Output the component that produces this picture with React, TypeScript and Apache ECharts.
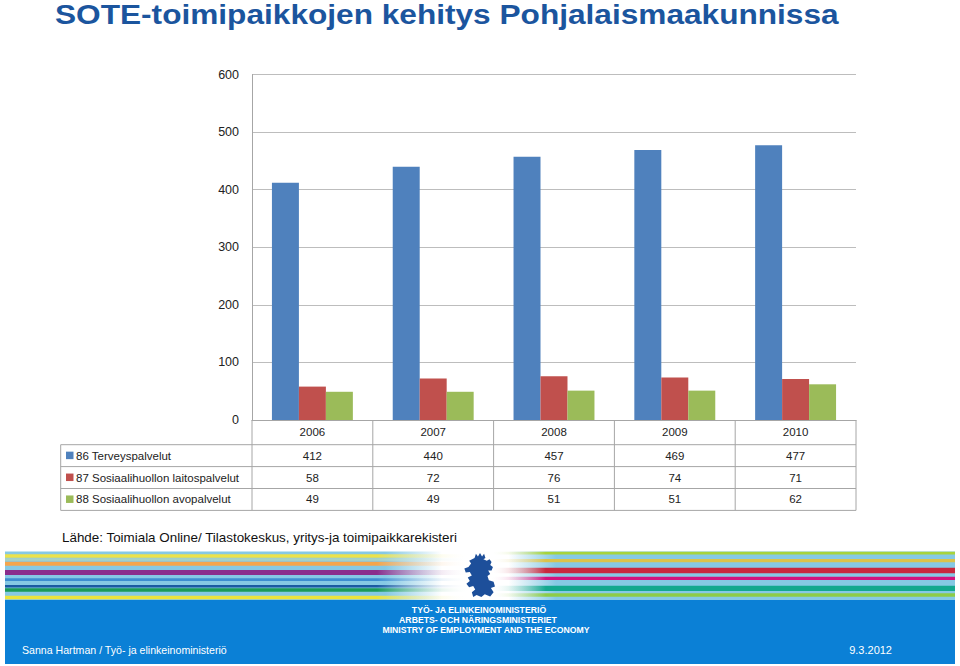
import React, { useEffect, useRef } from "react";
import * as echarts from "echarts";

const years = ["2006", "2007", "2008", "2009", "2010"];
const seriesNames = [
  "86 Terveyspalvelut",
  "87 Sosiaalihuollon laitospalvelut",
  "88 Sosiaalihuollon avopalvelut",
];
const terveys = [412, 440, 457, 469, 477];
const laitos = [58, 72, 76, 74, 71];
const avo = [49, 49, 51, 51, 62];
const yMin = 0;
const yMax = 600;
const yStep = 100;

const titleText = "SOTE-toimipaikkojen kehitys Pohjalaismaakunnissa";
const sourceText = "Lähde: Toimiala Online/ Tilastokeskus, yritys-ja toimipaikkarekisteri";
const ministryLines = [
  "TYÖ- JA ELINKEINOMINISTERIÖ",
  "ARBETS- OCH NÄRINGSMINISTERIET",
  "MINISTRY OF EMPLOYMENT AND THE ECONOMY",
];
const footerLeft = "Sanna Hartman / Työ- ja elinkeinoministeriö";
const footerRight = "9.3.2012";

const colors = ["#4f81bd", "#c0504d", "#9bbb59"];
const FONT = "Liberation Sans, Arial, sans-serif";
const BORDER = "#a6a6a6";

const lionPath =
  "M34 14 L38 2 L44 10 L50 0 L56 10 L62 2 L66 14 L60 18 L70 22 L78 18 L84 26 L80 34 L88 40 L84 50 L74 50 L80 60 L72 66 L76 78 L90 82 L94 96 L82 100 L90 112 L80 124 L64 118 L54 126 L40 120 L30 126 L26 112 L36 104 L30 94 L18 98 L10 88 L20 80 L14 70 L26 64 L20 54 L8 56 L4 44 L16 40 L24 30 L18 22 Z";

try {
  echarts.graphic.registerShape(
    "lionLogo",
    echarts.graphic.extendPath(lionPath, {}) as any
  );
} catch (e) {}

export default function App() {
  const ref = useRef<HTMLDivElement>(null);
  useEffect(() => {
    document.body.style.margin = "0";
    if (!ref.current) return;
    const chart = echarts.init(ref.current, null, { renderer: "svg" });
    const barSeries = [terveys, laitos, avo].map((d, i) => ({
      name: seriesNames[i],
      type: "bar" as const,
      data: d,
      barGap: "0%",
      barCategoryGap: "33%",
      itemStyle: { color: colors[i] },
    }));
    chart.setOption({
      animation: false,
      backgroundColor: "#ffffff",
      grid: { left: 252, right: 104, top: 74.5, bottom: 246, containLabel: false },
      xAxis: {
        type: "category",
        data: years,
        axisLine: { lineStyle: { color: BORDER } },
        axisTick: { show: false },
        axisLabel: { show: false },
      },
      yAxis: {
        type: "value",
        min: yMin,
        max: yMax,
        interval: yStep,
        axisLine: { show: true, lineStyle: { color: BORDER } },
        axisTick: { show: false },
        axisLabel: { color: "#222", fontSize: 12.5, fontFamily: FONT, margin: 13 },
        splitLine: { lineStyle: { color: "#bdbdbd" } },
      },
      series: barSeries,
    });

    const cx = years.map((y) => chart.convertToPixel({ xAxisIndex: 0 }, y) as number);
    const cw = cx.length > 1 ? cx[1] - cx[0] : 120;
    const y0 = chart.convertToPixel({ yAxisIndex: 0 }, 0) as number;
    const tableLeft = 60.7;
    const colLeft = cx[0] - cw / 2;
    const colRight = cx[cx.length - 1] + cw / 2;
    const headerH = 24.7;
    const rowH = 21.9;
    const rowsTop = y0 + headerH;
    const rowsBottom = rowsTop + rowH * 3;
    const g: any[] = [];

    // title
    g.push({
      type: "text",
      x: 55,
      y: 14,
      scaleX: 1.15,
      style: {
        text: titleText,
        fill: "#1b559e",
        font: `bold 27.5px ${FONT}`,
        textVerticalAlign: "middle",
      },
    });

    // table lines
    const line = (x1: number, y1: number, x2: number, y2: number) => ({
      type: "line",
      shape: { x1, y1, x2, y2 },
      style: { stroke: BORDER, lineWidth: 1 },
      silent: true,
    });
    for (let i = 0; i <= years.length; i++) {
      const x = colLeft + cw * i;
      g.push(line(x, y0, x, rowsBottom));
    }
    g.push(line(tableLeft, rowsTop, tableLeft, rowsBottom));
    for (let r = 0; r <= 3; r++) {
      const y = rowsTop + rowH * r;
      g.push(line(tableLeft, y, colRight, y));
    }
    // header years
    years.forEach((yr, i) => {
      g.push({
        type: "text",
        x: cx[i],
        y: y0 + headerH / 2,
        style: {
          text: yr,
          fill: "#222",
          font: `11.5px ${FONT}`,
          textAlign: "center",
          textVerticalAlign: "middle",
        },
      });
    });
    const rows = [terveys, laitos, avo];
    rows.forEach((vals, r) => {
      const yc = rowsTop + rowH * r + rowH / 2;
      g.push({
        type: "rect",
        shape: { x: 66, y: yc - 4, width: 7.5, height: 7.5 },
        style: { fill: colors[r] },
      });
      g.push({
        type: "text",
        x: 76,
        y: yc,
        style: {
          text: seriesNames[r],
          fill: "#222",
          font: `11.5px ${FONT}`,
          textVerticalAlign: "middle",
        },
      });
      vals.forEach((v, i) => {
        g.push({
          type: "text",
          x: cx[i],
          y: yc,
          style: {
            text: String(v),
            fill: "#222",
            font: `11.5px ${FONT}`,
            textAlign: "center",
            textVerticalAlign: "middle",
          },
        });
      });
    });

    // source
    g.push({
      type: "text",
      x: 62,
      y: 537,
      style: {
        text: sourceText,
        fill: "#111",
        font: `13.4px ${FONT}`,
        textVerticalAlign: "middle",
      },
    });

    // footer base
    const fx = 5;
    const fw = 950;
    g.push({
      type: "rect",
      shape: { x: fx, y: 551.5, width: fw, height: 48.5 },
      style: {
        fill: {
          type: "linear",
          x: 0,
          y: 0,
          x2: 1,
          y2: 0,
          colorStops: [
            { offset: 0, color: "#86c9e4" },
            { offset: 0.4, color: "#86c9e4" },
            { offset: 0.46, color: "#ffffff" },
            { offset: 0.53, color: "#ffffff" },
            { offset: 0.58, color: "#86c9e4" },
            { offset: 1, color: "#86c9e4" },
          ],
        },
      },
    });
    const leftStripes = [
      [554.3, 3.4, "#ece24a"],
      [558.3, 2.4, "#a9d3c2"],
      [561.7, 4.0, "#f4a54c"],
      [570.0, 5.0, "#8a2e8c"],
      [578.3, 2.8, "#3d8ed0"],
      [585.0, 2.4, "#1b5aa2"],
      [588.3, 3.4, "#1a9a58"],
      [595.7, 3.6, "#ebe33c"],
    ] as const;
    const rightStripes = [
      [551.7, 2.8, "#a7d33b"],
      [559.0, 3.3, "#dbc34b"],
      [567.7, 5.6, "#c9283e"],
      [576.7, 3.3, "#d2147e"],
      [585.7, 5.3, "#14a88f"],
      [593.3, 3.4, "#8dcc47"],
    ] as const;
    leftStripes.forEach(([y, h, c]) => {
      g.push({
        type: "rect",
        shape: { x: fx, y, width: 465, height: h },
        style: {
          fill: {
            type: "linear",
            x: 0,
            y: 0,
            x2: 1,
            y2: 0,
            colorStops: [
              { offset: 0, color: c },
              { offset: 0.8, color: c },
              { offset: 1, color: "rgba(255,255,255,0)" },
            ],
          },
        },
      });
    });
    rightStripes.forEach(([y, h, c]) => {
      g.push({
        type: "rect",
        shape: { x: 490, y, width: 955 - 490, height: h },
        style: {
          fill: {
            type: "linear",
            x: 0,
            y: 0,
            x2: 1,
            y2: 0,
            colorStops: [
              { offset: 0, color: "rgba(255,255,255,0)" },
              { offset: 0.12, color: c },
              { offset: 1, color: c },
            ],
          },
        },
      });
    });
    // lion logo
    g.push({
      type: "lionLogo",
      x: 463,
      y: 553,
      scaleX: 0.34,
      scaleY: 0.35,
      style: { fill: "#1d4f9a" },
    });
    // blue bar
    g.push({
      type: "rect",
      shape: { x: fx, y: 600, width: fw, height: 64 },
      style: { fill: "#0b80d6" },
    });
    const ministryCenters = [479, 478, 486];
    ministryLines.forEach((t, i) => {
      g.push({
        type: "text",
        x: ministryCenters[i],
        y: 609.5 + i * 10.2,
        style: {
          text: t,
          fill: "#ffffff",
          font: `bold 8.7px ${FONT}`,
          textAlign: "center",
          textVerticalAlign: "middle",
        },
      });
    });
    g.push({
      type: "text",
      x: 22,
      y: 650,
      style: {
        text: footerLeft,
        fill: "#ffffff",
        font: `10.6px ${FONT}`,
        textVerticalAlign: "middle",
      },
    });
    g.push({
      type: "text",
      x: 892,
      y: 650,
      style: {
        text: footerRight,
        fill: "#ffffff",
        font: `11px ${FONT}`,
        textAlign: "right",
        textVerticalAlign: "middle",
      },
    });

    chart.setOption({ graphic: g });
    return () => chart.dispose();
  }, []);
  return <div ref={ref} style={{ width: 960, height: 666 }} />;
}
